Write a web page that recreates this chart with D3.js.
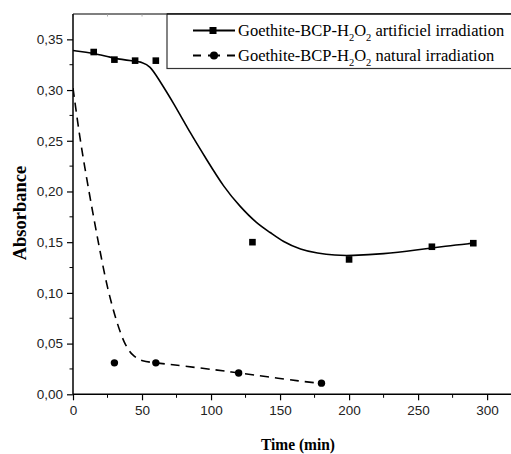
<!DOCTYPE html>
<html>
<head>
<meta charset="utf-8">
<script src="https://cdn.jsdelivr.net/npm/d3@7"></script>
<style>
html,body{margin:0;padding:0;background:#fff;}
svg{display:block;}
</style>
</head>
<body>
<svg id="chart" width="511" height="454"></svg>
<script>
// ---- data ----
const artTime = [15, 30, 45, 60, 130, 200, 260, 290];
const artAbs  = [0.3375, 0.330, 0.329, 0.329, 0.150, 0.133, 0.1455, 0.149];
const natTime = [30, 60, 120, 180];
const natAbs  = [0.031, 0.031, 0.021, 0.011];

// fitted (smoothed) curves
const artFitTime = [0, 15, 30, 45, 50, 56, 61, 73, 85, 97, 109, 121, 133, 143, 152, 165, 177, 190, 201, 225, 249, 270, 290];
const artFitAbs  = [0.339, 0.3365, 0.331, 0.3285, 0.3275, 0.3235, 0.313, 0.287, 0.2574, 0.231, 0.2047, 0.185, 0.1686, 0.1595, 0.1505, 0.1425, 0.139, 0.137, 0.1367, 0.1383, 0.1423, 0.1462, 0.149];
const natFitTime = [0, 5, 10, 15, 20, 25, 31, 37, 43, 50, 60, 80, 104, 120, 140, 165, 180];
const natFitAbs  = [0.302, 0.252, 0.212, 0.174, 0.138, 0.104, 0.074, 0.050, 0.038, 0.0325, 0.031, 0.0279, 0.024, 0.021, 0.0175, 0.0128, 0.0108];

const xMajor = [0, 50, 100, 150, 200, 250, 300];
const xMinor = [25, 75, 125, 175, 225, 275, 325];
const yMajor = [0, 0.05, 0.10, 0.15, 0.20, 0.25, 0.30, 0.35];
const yMinor = [0.025, 0.075, 0.125, 0.175, 0.225, 0.275, 0.325];

const legendLabels = [
  {pre: "Goethite-BCP-H", post: " artificiel irradiation"},
  {pre: "Goethite-BCP-H", post: " natural irradiation"}
];

// ---- layout ----
const svg = d3.select("#chart");
const x = d3.scaleLinear().domain([0, 326]).range([73, 523]);
const y = d3.scaleLinear().domain([0, 0.375]).range([394.3, 14]);

svg.append("defs").append("clipPath").attr("id", "clip")
  .append("rect").attr("x", 73).attr("y", 14).attr("width", 450).attr("height", 380.3);

// top frame line with small inward ticks
svg.append("line").attr("x1", 73).attr("x2", 511).attr("y1", 14).attr("y2", 14)
  .attr("stroke", "#000").attr("stroke-width", 1.2);
const topTicks = xMajor.concat(xMinor);
svg.selectAll(".tt").data(topTicks).enter().append("line")
  .attr("x1", d => x(d)).attr("x2", d => x(d)).attr("y1", 14).attr("y2", 16.5)
  .attr("stroke", "#999").attr("stroke-width", 0.8);

// x axis
const gx = svg.append("g").attr("transform", "translate(0,394.3)");
gx.call(d3.axisBottom(x).tickValues(xMajor).tickSize(6).tickPadding(5).tickFormat(d3.format("d")));
gx.selectAll(".minor").data(xMinor).enter().append("line")
  .attr("x1", d => x(d)).attr("x2", d => x(d)).attr("y1", 0).attr("y2", 3.5)
  .attr("stroke", "#000").attr("stroke-width", 1);
gx.select(".domain").attr("d", "M73,0H511").attr("stroke-width", 1.5);

// y axis
const gy = svg.append("g").attr("transform", "translate(73,0)");
gy.call(d3.axisLeft(y).tickValues(yMajor).tickSize(6).tickPadding(4)
  .tickFormat(d => d3.format(".2f")(d).replace(".", ",")));
gy.selectAll(".minor").data(yMinor).enter().append("line")
  .attr("x1", 0).attr("x2", -3.5).attr("y1", d => y(d)).attr("y2", d => y(d))
  .attr("stroke", "#000").attr("stroke-width", 1);
gy.select(".domain").attr("d", "M0,14V394.3").attr("stroke-width", 1.5);

[gx, gy].forEach(g => {
  g.selectAll(".tick line").attr("stroke-width", 1.2);
  g.selectAll(".tick text").attr("font-family", "Liberation Sans, Arial, sans-serif")
    .attr("font-size", 13.5).attr("fill", "#222");
});

// axis titles
svg.append("text").attr("x", 298).attr("y", 450)
  .attr("text-anchor", "middle").attr("font-family", "Liberation Serif, Times New Roman, serif")
  .attr("font-weight", "bold").attr("font-size", 17)
  .attr("textLength", 74).attr("lengthAdjust", "spacingAndGlyphs")
  .text("Time (min)");
svg.append("text").attr("transform", "translate(26,213) rotate(-90)")
  .attr("text-anchor", "middle").attr("font-family", "Liberation Serif, Times New Roman, serif")
  .attr("font-weight", "bold").attr("font-size", 18.5)
  .text("Absorbance");

// curves
const plot = svg.append("g").attr("clip-path", "url(#clip)");
const line = d3.line().x(d => x(d[0])).y(d => y(d[1])).curve(d3.curveBasis);
plot.append("path").datum(artFitTime.map((t, i) => [t, artFitAbs[i]]))
  .attr("d", line).attr("fill", "none").attr("stroke", "#000").attr("stroke-width", 1.6);
plot.append("path").datum(natFitTime.map((t, i) => [t, natFitAbs[i]]))
  .attr("d", line).attr("fill", "none").attr("stroke", "#000").attr("stroke-width", 1.6)
  .attr("stroke-dasharray", "9,6");

// markers
plot.selectAll(".sq").data(artTime.map((t, i) => [t, artAbs[i]])).enter().append("rect")
  .attr("x", d => x(d[0]) - 3.3).attr("y", d => y(d[1]) - 3.3)
  .attr("width", 6.6).attr("height", 6.6).attr("fill", "#000");
plot.selectAll(".ci").data(natTime.map((t, i) => [t, natAbs[i]])).enter().append("circle")
  .attr("cx", d => x(d[0])).attr("cy", d => y(d[1])).attr("r", 3.7).attr("fill", "#000");

// legend
const lg = svg.append("g");
lg.append("rect").attr("x", 167).attr("y", 14).attr("width", 360).attr("height", 54.5)
  .attr("fill", "#fff").attr("stroke", "#333").attr("stroke-width", 1.2);
svg.append("line").attr("x1", 167).attr("x2", 511).attr("y1", 14).attr("y2", 14)
  .attr("stroke", "#000").attr("stroke-width", 1.2);
const rowsY = [30.5, 55.5];
legendLabels.forEach((lab, i) => {
  const ly = rowsY[i];
  lg.append("line").attr("x1", 193).attr("x2", 235).attr("y1", ly).attr("y2", ly)
    .attr("stroke", "#000").attr("stroke-width", 1.8)
    .attr("stroke-dasharray", i === 1 ? "8,7,12,7,8" : null);
  if (i === 0) {
    lg.append("rect").attr("x", 213 - 3.5).attr("y", ly - 3.5).attr("width", 7).attr("height", 7).attr("fill", "#000");
  } else {
    lg.append("circle").attr("cx", 214).attr("cy", ly).attr("r", 4).attr("fill", "#000");
  }
  const t = lg.append("text").attr("x", 238).attr("y", ly + 5.5)
    .attr("font-family", "Liberation Serif, Times New Roman, serif").attr("font-size", 16.5).attr("fill", "#000");
  t.append("tspan").text(lab.pre);
  t.append("tspan").attr("dy", 5).attr("font-size", 10.5).text("2");
  t.append("tspan").attr("dy", -5).text("O");
  t.append("tspan").attr("dy", 5).attr("font-size", 10.5).text("2");
  t.append("tspan").attr("dy", -5).text(lab.post);
});
</script>
</body>
</html>
